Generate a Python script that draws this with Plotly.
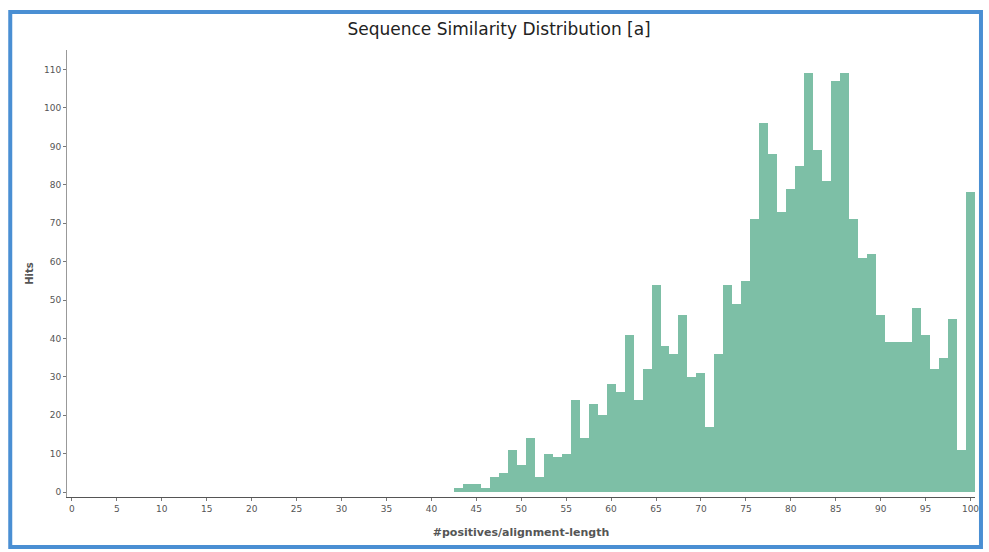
import plotly.graph_objects as go

# Hits per similarity bin (% positives / alignment length), bins centred on integers
similarity = list(range(43, 101))
hits = [1, 2, 2, 1, 4, 5, 11, 7, 14, 4,
        10, 9, 10, 24, 14, 23, 20, 28, 26, 41,
        24, 32, 54, 38, 36, 46, 30, 31, 17, 36,
        54, 49, 55, 71, 96, 88, 73, 79, 85, 109,
        89, 81, 107, 109, 71, 61, 62, 46, 39, 39,
        39, 48, 41, 32, 35, 45, 11, 78]

x_ticks = list(range(0, 101, 5))
y_ticks = list(range(0, 111, 10))

W, H = 989, 552
L, R, T, B = 67, 10, 50, 55


def px_to_paper(px, py):
    return (px - L) / (W - L - R), (H - B - py) / (H - T - B)


fig = go.Figure()
fig.add_trace(go.Bar(
    x=similarity, y=hits, width=1.0,
    marker=dict(color="#7dbfa6", line=dict(width=0)),
    hoverinfo="x+y",
))

# window frame around the chart
x0, y0 = px_to_paper(10, 12)
x1, y1 = px_to_paper(985, 547)
fig.add_shape(type="rect", xref="paper", yref="paper",
              x0=x0, y0=y1, x1=x1, y1=y0,
              line=dict(color="#4a8fd3", width=4), layer="below")

tick_font = dict(family="DejaVu Sans", size=9, color="#555555")
fig.update_layout(
    width=W, height=H,
    margin=dict(l=L, r=R, t=T, b=B),
    paper_bgcolor="white", plot_bgcolor="white",
    bargap=0, showlegend=False,
    title=dict(text="Sequence Similarity Distribution [a]",
               x=px_to_paper(501, 0)[0], xref="paper", xanchor="center",
               y=1 - 29 / H, yanchor="middle",
               font=dict(family="DejaVu Sans", size=17, color="#222222")),
    xaxis=dict(range=[-0.55, 100.5], tickvals=x_ticks, ticktext=[str(t) for t in x_ticks],
               showgrid=False, zeroline=False, showline=True, linecolor="#555555", linewidth=1,
               ticks="outside", ticklen=3, tickcolor="#777777", tickfont=tick_font,
               title=dict(text="<b>#positives/alignment-length</b>", standoff=15,
                          font=dict(family="DejaVu Sans", size=11, color="#555555"))),
    yaxis=dict(range=[-1.3, 115.1], tickvals=y_ticks, ticktext=[str(t) for t in y_ticks],
               showgrid=False, zeroline=False, showline=True, linecolor="#999999", linewidth=1,
               ticks="outside", ticklen=3, tickcolor="#777777", tickfont=tick_font,
               title=dict(text="<b>Hits</b>", standoff=8,
                          font=dict(family="DejaVu Sans", size=10, color="#555555"))),
)

fig.write_html("out.html")
